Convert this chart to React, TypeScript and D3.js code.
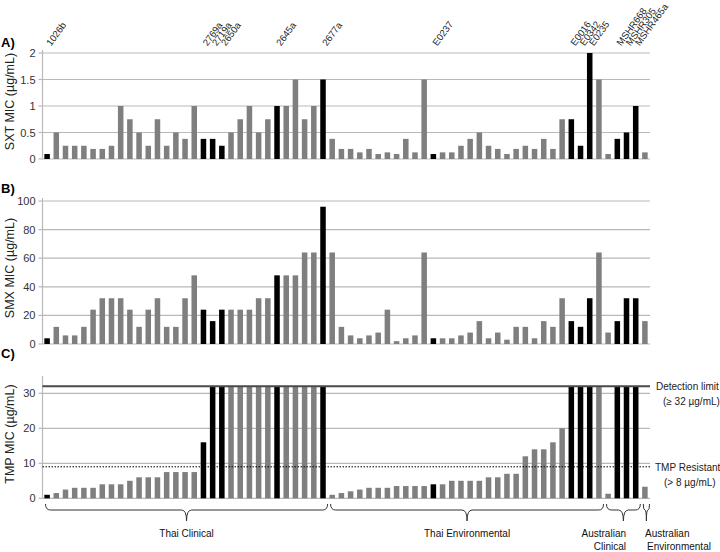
import React from "react";
import * as d3 from "d3";

// ---- data ----
const groupNames = ["Thai Clinical", "Thai Environmental", "Australian|Clinical", "Australian|Environmental"];
const groupSizes = [31, 30, 4, 1];

const labelPositions = [1, 18, 19, 20, 26, 31, 43, 58, 59, 60, 63, 64, 65];
const labelNames = ["1026b", "2769a", "2719a", "2650a", "2645a", "2677a", "E0237", "E0016", "E0342", "E0235", "MSHR668", "MSHR305", "MSHR465a"];

const sxt = [
  0.094, 0.5, 0.25, 0.25, 0.25, 0.19, 0.19, 0.25, 1.0, 0.75,
  0.5, 0.25, 0.75, 0.25, 0.5, 0.38, 1.0, 0.38, 0.38, 0.25,
  0.5, 0.75, 1.0, 0.5, 0.75, 1.0, 1.0, 1.5, 0.75, 1.0,
  1.5, 0.38, 0.19, 0.19, 0.125, 0.19, 0.094, 0.125, 0.094, 0.38,
  0.125, 1.5, 0.094, 0.125, 0.125, 0.25, 0.38, 0.5, 0.25, 0.19,
  0.094, 0.19, 0.25, 0.19, 0.38, 0.19, 0.75, 0.75, 0.25, 2.0,
  1.5, 0.094, 0.38, 0.5, 1.0, 0.125,
];

const smx = [
  4, 12, 6, 6, 12, 24, 32, 32, 32, 24,
  12, 24, 32, 12, 12, 32, 48, 24, 16, 24,
  24, 24, 24, 32, 32, 48, 48, 48, 64, 64,
  96, 64, 12, 6, 4, 6, 8, 24, 2, 4,
  6, 64, 4, 4, 4, 6, 8, 16, 4, 8,
  3, 12, 12, 4, 16, 12, 32, 16, 12, 32,
  64, 8, 16, 32, 32, 16,
];

const tmp = [
  1, 1.5, 2.5, 3, 3, 3, 4, 4, 4, 5,
  6, 6, 6, 7.5, 7.5, 7.5, 7.5, 16, 32, 32,
  32, 32, 32, 32, 32, 32, 32, 32, 32, 32,
  32, 1, 1.5, 2, 2.5, 3, 3, 3, 3.5, 3.5,
  3.5, 3.5, 4, 4, 5, 5, 5, 5, 6, 6,
  7, 7, 12, 14, 14, 16, 20, 32, 32, 32,
  32, 1.3, 32, 32, 32, 3.3,
];

const sxtTicks = [0, 0.5, 1, 1.5, 2];
const smxTicks = [0, 20, 40, 60, 80, 100];
const tmpTicks = [0, 10, 20, 30];
const detectionLimit = 32;
const resistantLine = 9;

const FONT = "Liberation Sans, Arial, sans-serif";
const GREY = "#7f7f7f";
const GRID = "#b9b9b9";

export default function App() {
  const n = sxt.length;
  const x = d3.scaleBand<number>().domain(d3.range(n)).range([42.5, 649.5]).paddingInner(0.4).paddingOuter(0.2);
  const x0 = 42.5, x1 = 650;
  const blackSet = new Set(labelPositions.map((p) => p - 1));

  const panels = [
    { letter: "A)", letterY: 47, title: "SXT MIC (\u00b5g/mL)", data: sxt, ticks: sxtTicks, y: d3.scaleLinear().domain([0, 2]).range([159, 53]), axisTop: 50 },
    { letter: "B)", letterY: 193, title: "SMX MIC (\u00b5g/mL)", data: smx, ticks: smxTicks, y: d3.scaleLinear().domain([0, 100]).range([344, 201]), axisTop: 198 },
    { letter: "C)", letterY: 358, title: "TMP  MIC (\u00b5g/mL)", data: tmp, ticks: tmpTicks, y: d3.scaleLinear().domain([0, 35]).range([498.3, 375.8]), axisTop: 375.8 },
  ];

  // group braces
  let start = 0;
  const groups = groupSizes.map((size, gi) => {
    const a = start, b = start + size - 1;
    start += size;
    const bx1 = (x(a) as number) - x.step() * 0.2 + 3;
    const bx2 = (x(b) as number) + x.bandwidth() + x.step() * 0.2;
    return { name: groupNames[gi], bx1, bx2, mid: (bx1 + bx2) / 2 };
  });

  const braceTop = 504, braceMid = 510, braceTip = 521;
  const bracePath = (a: number, b: number) => {
    const m = (a + b) / 2;
    const r = Math.min(5, (b - a) / 4);
    return `M${a},${braceTop} Q${a},${braceMid} ${a + r},${braceMid} L${m - r},${braceMid} Q${m},${braceMid} ${m},${braceTip} Q${m},${braceMid} ${m + r},${braceMid} L${b - r},${braceMid} Q${b},${braceMid} ${b},${braceTop}`;
  };

  const yc = panels[2].y;

  return (
    <svg width={720} height={552} style={{ position: "absolute", left: 0, top: 0, background: "#fff" }} fontFamily={FONT}>
      {/* top strain labels */}
      {labelPositions.map((p, i) => {
        const cx = (x(p - 1) as number) + x.bandwidth() / 2;
        return (
          <text key={"lab" + i} transform={`translate(${cx + 4},46.5) rotate(-54)`} fontSize={9.5} fill="#222">
            {labelNames[i]}
          </text>
        );
      })}

      {panels.map((pn, pi) => {
        const y = pn.y;
        const yMid = (y.range()[0] + pn.axisTop) / 2;
        return (
          <g key={"p" + pi}>
            <text x={1} y={pn.letterY} fontSize={13} fontWeight="bold" fill="#000">{pn.letter}</text>
            <text transform={`translate(13.5,${yMid - 3}) rotate(-90)`} textAnchor="middle" fontSize={12.5} fill="#222">{pn.title}</text>
            {pn.ticks.map((t) => (
              <g key={"t" + t}>
                <line x1={x0} x2={x1} y1={y(t)} y2={y(t)} stroke={GRID} strokeWidth={1.2} />
                <line x1={x0 - 4} x2={x0} y1={y(t)} y2={y(t)} stroke={GRID} strokeWidth={1.2} />
                <text x={35.5} y={y(t) + 4} textAnchor="end" fontSize={11} fill="#333">{String(t)}</text>
              </g>
            ))}
            <line x1={x0} x2={x0} y1={pn.axisTop} y2={y(0)} stroke={GRID} strokeWidth={1.2} />
            {pn.data.map((v, i) => (
              <rect key={"b" + i} x={x(i)} width={x.bandwidth()} y={y(v)} height={y(0) - y(v)} fill={blackSet.has(i) ? "#000" : GREY} />
            ))}
          </g>
        );
      })}

      {/* reference lines in panel C */}
      <line x1={x0} x2={x1} y1={yc(detectionLimit)} y2={yc(detectionLimit)} stroke="#4a4a4a" strokeWidth={2} />
      <line x1={x0} x2={x1} y1={yc(resistantLine)} y2={yc(resistantLine)} stroke="#000" strokeWidth={1} strokeDasharray="1.5,1.5" />
      <text x={656} y={yc(detectionLimit) + 4} fontSize={10} fill="#222">Detection limit</text>
      <text x={663} y={yc(detectionLimit) + 19} fontSize={10} fill="#222">({"\u2265"} 32 {"\u00b5"}g/mL)</text>
      <text x={655} y={yc(resistantLine) + 4} fontSize={10} fill="#222">TMP Resistant</text>
      <text x={664} y={yc(resistantLine) + 19} fontSize={10} fill="#222">({">"} 8 {"\u00b5"}g/mL)</text>

      {/* group braces and labels */}
      {groups.map((g, gi) => {
        const parts = g.name.split("|");
        return (
          <g key={"g" + gi}>
            <path d={bracePath(g.bx1, g.bx2)} fill="none" stroke="#333" strokeWidth={1} />
            {parts.length === 1 ? (
              <text x={g.mid} y={537} textAnchor="middle" fontSize={10} fill="#111">{parts[0]}</text>
            ) : gi === 2 ? (
              <>
                <text x={626} y={537} textAnchor="end" fontSize={10} fill="#111">{parts[0]}</text>
                <text x={626} y={550} textAnchor="end" fontSize={10} fill="#111">{parts[1]}</text>
              </>
            ) : (
              <>
                <text x={645} y={537} fontSize={10} fill="#111">{parts[0]}</text>
                <text x={647} y={550} fontSize={10} fill="#111">{parts[1]}</text>
              </>
            )}
          </g>
        );
      })}
    </svg>
  );
}
